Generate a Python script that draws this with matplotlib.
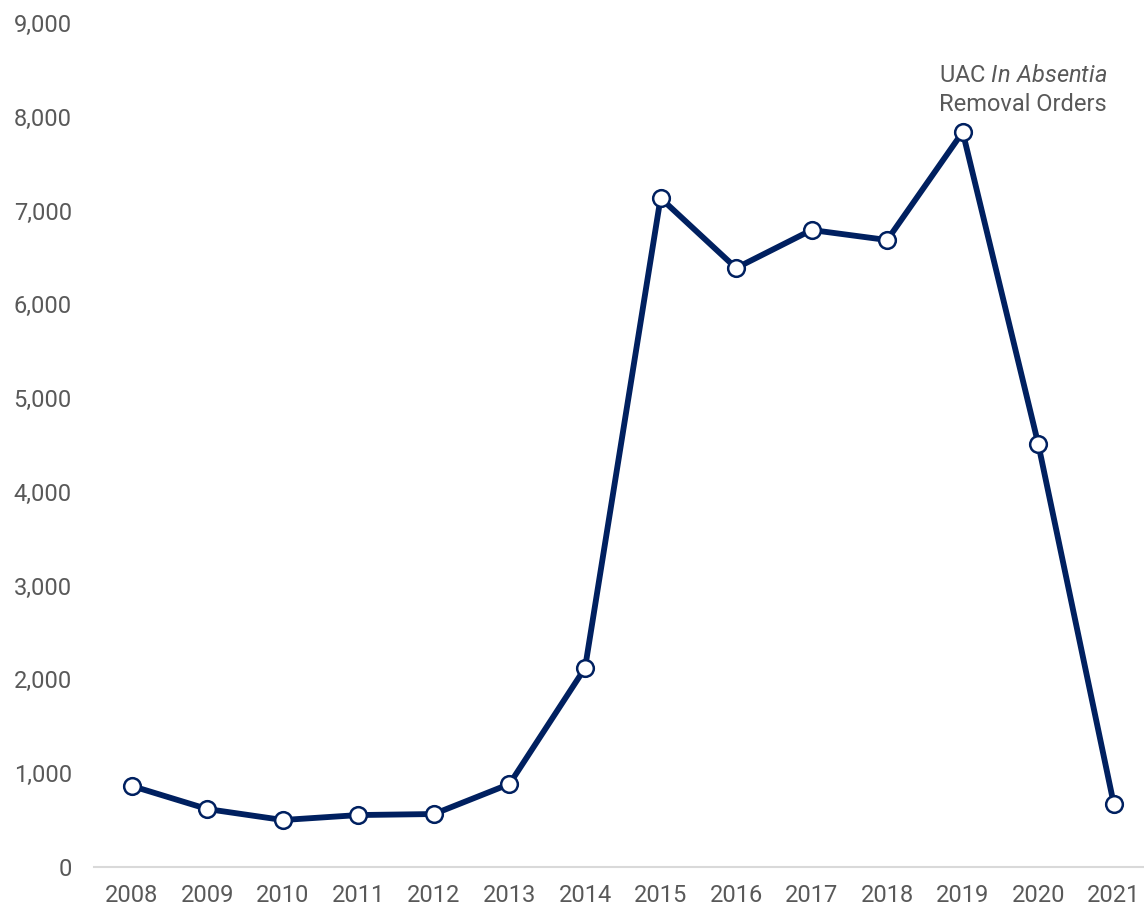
import matplotlib
matplotlib.use("Agg")
import matplotlib.pyplot as plt
from matplotlib.ticker import FuncFormatter

years = [2008, 2009, 2010, 2011, 2012, 2013, 2014, 2015, 2016, 2017, 2018, 2019, 2020, 2021]
orders = [864, 618, 501, 554, 565, 885, 2122, 7134, 6387, 6793, 6686, 7838, 4511, 672]

navy = "#002060"
grey = "#595959"

plt.rcParams["font.family"] = ["Roboto", "DejaVu Sans"]
plt.rcParams["mathtext.fontset"] = "custom"
plt.rcParams["mathtext.it"] = "Roboto:italic"
plt.rcParams["mathtext.rm"] = "Roboto"

fig = plt.figure(figsize=(11.44, 9.07), dpi=100)
ax = fig.add_axes([0.0822, 0.0441, 0.9178, 0.9305])

ax.plot(years, orders, color=navy, linewidth=4.2, marker="o", markersize=12,
        markerfacecolor="white", markeredgecolor=navy, markeredgewidth=1.8,
        solid_joinstyle="round", zorder=3)

ax.set_xlim(2007.5, 2021.4)
ax.set_ylim(0, 9000)
ax.set_yticks(range(0, 9001, 1000))
ax.yaxis.set_major_formatter(FuncFormatter(lambda v, _: f"{int(v):,}"))
ax.set_xticks(years)
ax.set_xticklabels([str(y) for y in years])

for s in ["top", "right", "left"]:
    ax.spines[s].set_visible(False)
ax.spines["bottom"].set_color("#d9d9d9")
ax.spines["bottom"].set_linewidth(1.5)
ax.tick_params(axis="both", length=0, labelsize=17, labelcolor=grey)
ax.tick_params(axis="y", pad=16)
ax.tick_params(axis="x", pad=12)

# label sits above the 2019 peak, two lines placed separately
ax.text(2019.8, 8445, "UAC $\\it{In\\ Absentia}$", ha="center", va="center",
        fontsize=17, color=grey)
ax.text(2019.8, 8136, "Removal Orders", ha="center", va="center",
        fontsize=17, color=grey)

fig.savefig("out.png", dpi=100)
